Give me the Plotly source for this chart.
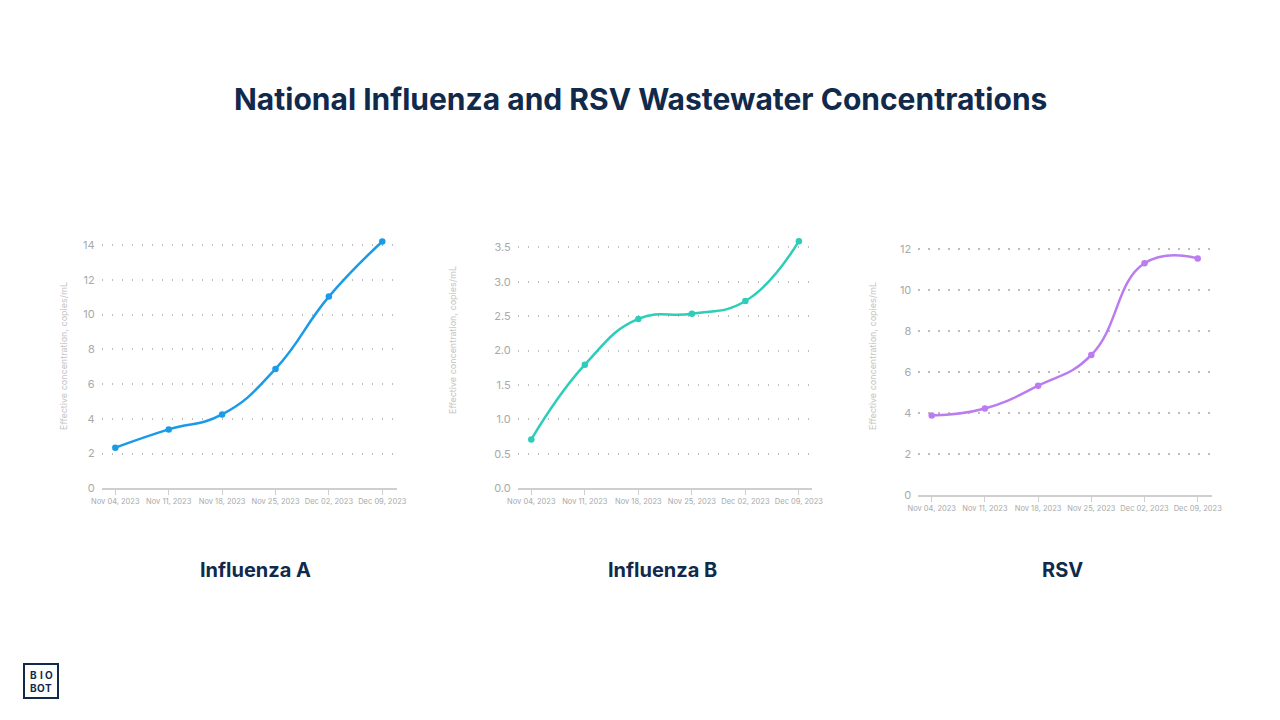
import plotly.graph_objects as go

dates = ["Nov 04, 2023", "Nov 11, 2023", "Nov 18, 2023", "Nov 25, 2023", "Dec 02, 2023", "Dec 09, 2023"]
flu_a = [2.34, 3.39, 4.25, 6.87, 11.03, 14.2]
flu_b = [0.71, 1.795, 2.46, 2.535, 2.72, 3.59]
rsv = [3.89, 4.23, 5.34, 6.84, 11.32, 11.56]

series = [
    ("Influenza A", flu_a, "#1a9be8", [0, 2, 4, 6, 8, 10, 12, 14], ["0", "2", "4", "6", "8", "10", "12", "14"]),
    ("Influenza B", flu_b, "#2dcdb9", [0, 0.5, 1, 1.5, 2, 2.5, 3, 3.5], ["0.0", "0.5", "1.0", "1.5", "2.0", "2.5", "3.0", "3.5"]),
    ("RSV", rsv, "#bb7cf0", [0, 2, 4, 6, 8, 10, 12], ["0", "2", "4", "6", "8", "10", "12"]),
]

W, H = 1280, 720
NAVY = "#112a4b"
GRID = "#bdbdbd"
TICK = "#a9a9a9"
FONT = "Inter, Roboto, sans-serif"

# pixel geometry of each panel: (x_left, x_right, y_bottom, y_top, xrange, yrange)
panels = [
    (101.7, 396.7, 488.3, 236.3, [-0.255, 5.27], [0, 14.5]),
    (517.7, 812.3, 488.3, 237.0, [-0.254, 5.25], [0, 3.65]),
    (918.3, 1211.7, 495.0, 241.2, [-0.252, 5.263], [0, 12.4]),
]
ytitle_x = [63, 452, 872]
ytitle_y = [356, 340, 356]
sub_x = [255, 662, 1062]

fig = go.Figure()
layout = dict(
    width=W, height=H,
    margin=dict(l=0, r=0, t=0, b=0, autoexpand=False),
    paper_bgcolor="white", plot_bgcolor="white",
    showlegend=False,
    font=dict(family=FONT, color=TICK),
)
annotations = []
for i, ((name, vals, color, tv, tt), (xl, xr, yb, yt, xr_, yr_)) in enumerate(zip(series, panels)):
    xa = "x" if i == 0 else f"x{i+1}"
    ya = "y" if i == 0 else f"y{i+1}"
    fig.add_trace(go.Scatter(
        x=list(range(len(dates))), y=vals, mode="lines+markers",
        line=dict(color=color, width=2.5, shape="spline", smoothing=1.3),
        marker=dict(color=color, size=6.5),
        xaxis=xa, yaxis=ya, name=name, cliponaxis=False,
    ))
    xkey = "xaxis" if i == 0 else f"xaxis{i+1}"
    ykey = "yaxis" if i == 0 else f"yaxis{i+1}"
    layout[xkey] = dict(
        domain=[xl / W, xr / W], anchor=ya, range=xr_, automargin=False,
        tickmode="array", tickvals=list(range(len(dates))), ticktext=dates, tickangle=0,
        showgrid=False, zeroline=False, showline=True, linecolor="#cfcfcf", linewidth=1.5,
        ticks="outside", ticklen=5, tickcolor="#cfcfcf", tickwidth=1,
        tickfont=dict(size=7.5, color=TICK, family=FONT),
        fixedrange=True,
    )
    layout[ykey] = dict(
        domain=[1 - yb / H, 1 - yt / H], anchor=xa, range=yr_, automargin=False,
        tickmode="array", tickvals=tv, ticktext=tt,
        showgrid=True, gridcolor=GRID, griddash="1.5px,8.5px", gridwidth=1.5,
        zeroline=False, showline=False, ticks="", ticklabelstandoff=6,
        tickfont=dict(size=11, color=TICK, family=FONT),
        fixedrange=True,
    )
    annotations.append(dict(
        text="Effective concentration, copies/mL", x=ytitle_x[i] / W, y=1 - ytitle_y[i] / H,
        xref="paper", yref="paper", showarrow=False, textangle=-90,
        xanchor="center", yanchor="middle",
        font=dict(size=9, color="#c4c4c4", family=FONT),
    ))
    annotations.append(dict(
        text=f"<b>{name}</b>", x=sub_x[i] / W, y=1 - 570 / H, xref="paper", yref="paper",
        xanchor="center", yanchor="middle",
        showarrow=False, font=dict(size=20, color=NAVY, family=FONT),
    ))

annotations.append(dict(
    text="<b>National Influenza and RSV Wastewater Concentrations</b>", x=0.5, y=1 - 99 / H,
    xref="paper", yref="paper", showarrow=False, xanchor="center", yanchor="middle",
    font=dict(size=30, color=NAVY, family=FONT),
))
# logo letters
logo_rows = [("B", "I", "O"), ("B", "O", "T")]
logo_cols = [33.5, 41, 48.5]
logo_ys = [675, 688]
for r, row in enumerate(logo_rows):
    for c, ch in enumerate(row):
        annotations.append(dict(
            text=f"<b>{ch}</b>", x=logo_cols[c] / W, y=1 - logo_ys[r] / H,
            xref="paper", yref="paper", showarrow=False, xanchor="center", yanchor="middle",
            font=dict(size=10, color=NAVY, family=FONT),
        ))
layout["annotations"] = annotations
layout["shapes"] = [dict(
    type="rect", xref="paper", yref="paper", x0=24 / W, x1=58 / W, y0=1 - 698 / H, y1=1 - 664 / H,
    line=dict(color=NAVY, width=2),
)]
fig.update_layout(**layout)
fig.write_html("out.html")
